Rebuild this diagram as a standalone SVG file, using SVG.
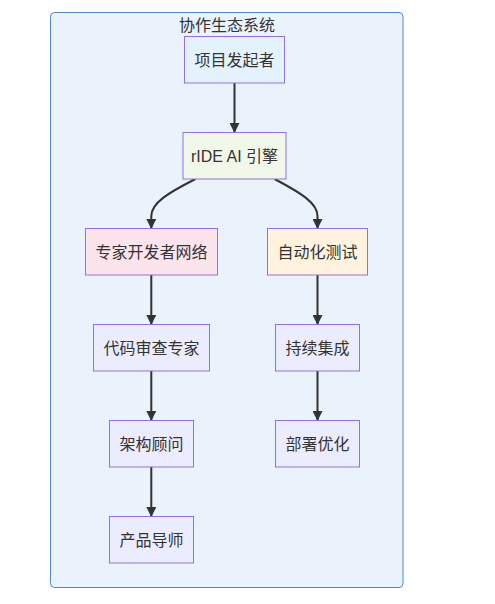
<svg xmlns="http://www.w3.org/2000/svg" width="495" height="604" viewBox="0 0 495 604">
<defs>
<style>
text{font-family:"Liberation Sans","Noto Sans CJK SC",sans-serif;font-size:16px;fill:#333;text-anchor:middle;dominant-baseline:central}
.n{stroke:#9370DB;stroke-width:1}
.e{fill:none;stroke:#333;stroke-width:2}
</style>
<marker id="ah" viewBox="0 0 10 10" refX="9" refY="5" markerWidth="10" markerHeight="10" markerUnits="userSpaceOnUse" orient="auto">
<path d="M0,0 L10,5 L0,10 z" fill="#333"/>
</marker>
</defs>
<rect width="495" height="604" fill="#fff"/>
<g id="cluster">
<rect x="50.5" y="12.5" width="352.5" height="575" rx="4" fill="#eaf2fc" stroke="#4f86c6" stroke-width="1"/>
<text x="227" y="25">协作生态系统</text>
</g>
<g id="edges">
<path class="e" d="M234.5,83 L234.5,132" marker-end="url(#ah)"/>
<path class="e" d="M195.5,179 C168,193 151.3,203 151.3,216 L151.3,228" marker-end="url(#ah)"/>
<path class="e" d="M274.5,179 C301,193 317.5,203 317.5,216 L317.5,228" marker-end="url(#ah)"/>
<path class="e" d="M151.3,275 L151.3,324" marker-end="url(#ah)"/>
<path class="e" d="M151.3,371 L151.3,420" marker-end="url(#ah)"/>
<path class="e" d="M151.3,467 L151.3,516" marker-end="url(#ah)"/>
<path class="e" d="M317.5,275 L317.5,324" marker-end="url(#ah)"/>
<path class="e" d="M317.5,371 L317.5,420" marker-end="url(#ah)"/>
</g>
<g id="n1"><rect class="n" x="184.5" y="36.5" width="100" height="46.5" fill="#e3f2fd"/><text x="234.5" y="60">项目发起者</text></g>
<g id="n2"><rect class="n" x="183" y="132.5" width="103" height="46.5" fill="#f1f8e9"/><text x="234.5" y="156">rIDE AI 引擎</text></g>
<g id="n3"><rect class="n" x="85.5" y="228.5" width="132" height="46.5" fill="#fce4ec"/><text x="151.5" y="252">专家开发者网络</text></g>
<g id="n4"><rect class="n" x="267.5" y="228.5" width="100" height="46.5" fill="#fff3e0"/><text x="317.5" y="252">自动化测试</text></g>
<g id="n5"><rect class="n" x="93.5" y="324.5" width="116" height="46.5" fill="#ececff"/><text x="151.5" y="348">代码审查专家</text></g>
<g id="n6"><rect class="n" x="275.5" y="324.5" width="84" height="46.5" fill="#ececff"/><text x="317.5" y="348">持续集成</text></g>
<g id="n7"><rect class="n" x="109.5" y="420.5" width="84" height="46.5" fill="#ececff"/><text x="151.5" y="444">架构顾问</text></g>
<g id="n8"><rect class="n" x="275.5" y="420.5" width="84" height="46.5" fill="#ececff"/><text x="317.5" y="444">部署优化</text></g>
<g id="n9"><rect class="n" x="109.5" y="516.5" width="84" height="46.5" fill="#ececff"/><text x="151.5" y="540">产品导师</text></g>
</svg>
